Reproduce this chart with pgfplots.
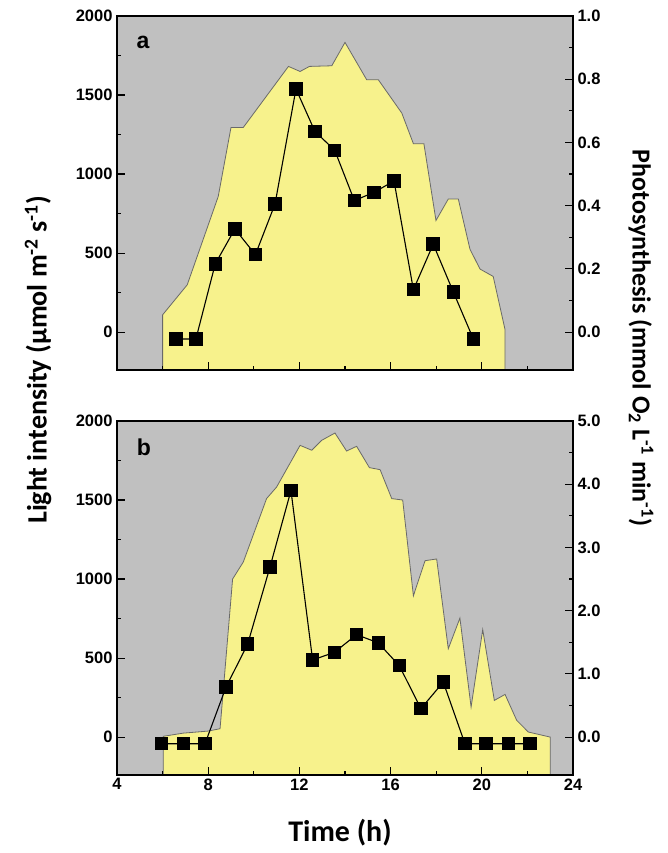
\documentclass[border=0pt]{standalone}
\usepackage{pgfplots}
\pgfplotsset{compat=1.18}
\usepackage{fontspec}
\setmainfont{Liberation Sans}
\newfontfamily\calib{Carlito}
\definecolor{bggray}{RGB}{192,192,192}
\definecolor{yfill}{RGB}{247,242,140}
\definecolor{outl}{RGB}{105,105,105}
\pgfplotsset{
  mybase/.style={
    scale only axis, width=456pt, height=354pt,
    xmin=4, xmax=24,
    axis line style={black, line width=1.2pt},
    every tick/.style={black, line width=1.1pt},
    major tick length=8pt, minor tick length=4pt,
    tick align=inside,
    /pgf/number format/assume math mode=true,
    tick label style={font=\bfseries\fontsize{16.5}{17}\selectfont},
  },
  myleft/.style={mybase,
    ymin=-240, ymax=2000,
    ytick={0,500,1000,1500,2000}, minor ytick={250,750,1250,1750},
    xtick={4,8,12,16,20,24}, minor xtick={6,10,14,18,22},
    xtick pos=left, ytick pos=left,
    yticklabel style={/pgf/number format/1000 sep={}, xshift=-1pt},
  },
  myright/.style={mybase,
    clip=false,
    xtick=\empty, ytick pos=right,
    yticklabel style={/pgf/number format/fixed, /pgf/number format/fixed zerofill, /pgf/number format/precision=1, xshift=1pt},
  },
  myphoto/.style={black, line width=1.1pt, mark=square*, mark size=6.2pt, mark options={solid, fill=black}},
  mylight/.style={draw=outl, line width=0.8pt, fill=yfill},
}
% frame and left/bottom ticks, drawn on top of the fills
\newcommand\myframe{%
  \pgfplotsinvokeforeach{0,500,1000,1500,2000}{\draw[black,line width=1.1pt] (rel axis cs:0,{(##1+240)/2240}) -- (rel axis cs:0.01754,{(##1+240)/2240});}%
  \pgfplotsinvokeforeach{250,750,1250,1750}{\draw[black,line width=1.1pt] (rel axis cs:0,{(##1+240)/2240}) -- (rel axis cs:0.00877,{(##1+240)/2240});}%
  \pgfplotsinvokeforeach{8,12,16,20}{\draw[black,line width=1.1pt] (rel axis cs:{(##1-4)/20},0) -- (rel axis cs:{(##1-4)/20},0.0226);}%
  \pgfplotsinvokeforeach{6,10,14,18,22}{\draw[black,line width=1.1pt] (rel axis cs:{(##1-4)/20},0) -- (rel axis cs:{(##1-4)/20},0.0113);}%
  \draw[black, line width=1.2pt] (rel axis cs:0,0) rectangle (rel axis cs:1,1);%
}
\pgfplotstableread{
t v
6.0 -400
6.0 109
7.08 299
8.44 858
9.0 1295
9.54 1295
11.52 1681
12.03 1649
12.44 1681
13.42 1685
14.0 1833
14.95 1597
15.46 1597
16.49 1386
17.0 1192
17.46 1192
17.99 706
18.53 842
18.97 842
19.48 525
19.92 399
20.5 352
21.02 15
21.02 -400
}\lightA
\pgfplotstableread{
t p
6.59 -0.022
7.46 -0.022
8.31 0.216
9.17 0.326
10.07 0.245
10.93 0.405
11.85 0.769
12.68 0.635
13.55 0.575
14.41 0.416
15.27 0.442
16.15 0.478
17.0 0.134
17.87 0.278
18.75 0.127
19.63 -0.022
}\photoA
\pgfplotstableread{
t v
6.03 -400
6.03 5
6.91 25
8.0 38
8.52 53
9.07 1000
9.54 1108
10.56 1509
11.0 1582
12.03 1846
12.54 1815
12.98 1878
13.56 1924
14.07 1810
14.51 1840
15.07 1705
15.54 1692
16.05 1509
16.53 1500
17.0 894
17.51 1116
18.02 1127
18.53 559
19.04 753
19.53 190
20.04 680
20.55 232
21.02 270
21.53 106
22.04 32
23.0 0
23.0 -400
}\lightB
\pgfplotstableread{
t p
5.96 -0.105
6.91 -0.105
7.86 -0.105
8.78 0.79
9.73 1.47
10.71 2.69
11.63 3.90
12.58 1.22
13.53 1.34
14.51 1.62
15.46 1.49
16.38 1.13
17.33 0.45
18.31 0.87
19.26 -0.105
20.18 -0.105
21.16 -0.105
22.11 -0.105
}\photoB
\begin{document}
\begin{tikzpicture}
% ---- panel a ----
\begin{axis}[myleft, at={(0,0)}, anchor=north west, xticklabels={}]
\fill[bggray] (rel axis cs:0,0) rectangle (rel axis cs:1,1);
\addplot[mylight] table[x=t,y=v] {\lightA} -- cycle;
\end{axis}
\begin{axis}[myright, at={(0,0)}, anchor=north west,
  ymin=-0.12, ymax=1.0, ytick={0,0.2,0.4,0.6,0.8,1.0}, minor ytick={0.1,0.3,0.5,0.7,0.9}]
\myframe
\pgfplotsinvokeforeach{0,0.2,0.4,0.6,0.8}{\draw[black,line width=1.1pt] (axis cs:24,#1) -- (axis cs:23.649,#1);}
\pgfplotsinvokeforeach{0.1,0.3,0.5,0.7,0.9}{\draw[black,line width=1.1pt] (axis cs:24,#1) -- (axis cs:23.825,#1);}
\addplot[myphoto] table[x=t,y=p] {\photoA};
\node[font=\bfseries\fontsize{23}{23}\selectfont] at (rel axis cs:0.057,0.925) {a};
\end{axis}
% ---- panel b ----
\begin{axis}[myleft, at={(0,-405pt)}, anchor=north west]
\fill[bggray] (rel axis cs:0,0) rectangle (rel axis cs:1,1);
\addplot[mylight] table[x=t,y=v] {\lightB} -- cycle;
\end{axis}
\begin{axis}[myright, at={(0,-405pt)}, anchor=north west,
  ymin=-0.6, ymax=5.0, ytick={0,1,2,3,4,5}, minor ytick={0.5,1.5,2.5,3.5,4.5}]
\myframe
\pgfplotsinvokeforeach{0,1,2,3,4}{\draw[black,line width=1.1pt] (axis cs:24,#1) -- (axis cs:23.649,#1);}
\pgfplotsinvokeforeach{0.5,1.5,2.5,3.5,4.5}{\draw[black,line width=1.1pt] (axis cs:24,#1) -- (axis cs:23.825,#1);}
\addplot[myphoto] table[x=t,y=p] {\photoB};
\node[font=\bfseries\fontsize{23}{23}\selectfont] at (rel axis cs:0.059,0.925) {b};
\end{axis}
% ---- labels ----
\node[rotate=90, font=\calib\bfseries\fontsize{28}{28}\selectfont] at (-79pt,-344pt) {Light intensity (µmol m\textsuperscript{-2} s\textsuperscript{-1})};
\node[rotate=-90, font=\calib\bfseries\fontsize{26}{26}\selectfont] at (524pt,-322pt) {Photosynthesis (mmol O\textsubscript{2} L\textsuperscript{-1} min\textsuperscript{-1})};
\node[font=\calib\bfseries\fontsize{30}{30}\selectfont] at (223pt,-817pt) {Time (h)};
\path (-117pt,16pt) (550pt,-837pt);
\end{tikzpicture}
\end{document}
